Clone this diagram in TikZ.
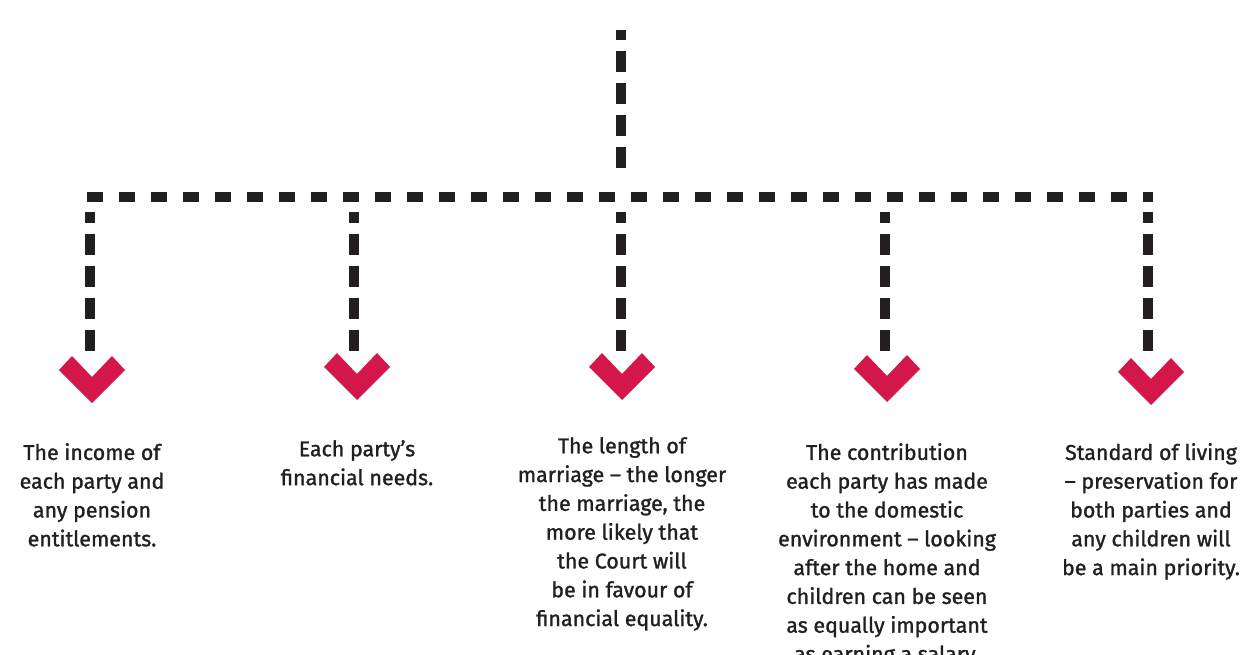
\documentclass[tikz,border=0pt]{standalone}
\usepackage{fontspec}
\setmainfont{Fira Sans}[FakeBold=1.3]
\definecolor{ink}{HTML}{231F20}
\definecolor{berry}{HTML}{D4174A}
\begin{document}
\begin{tikzpicture}[x=1pt,y=-1pt,
  dashv/.style={draw=ink,line width=10.5pt,dash pattern=on 21pt off 11pt},
  dashh/.style={draw=ink,line width=10.5pt,dash pattern=on 16pt off 16pt},
  chev/.style={fill=berry},
  lbl/.style={align=center,font=\fontsize{21.4}{28.8}\selectfont,text=ink,anchor=north,inner sep=0pt}]
\useasboundingbox (0,0) rectangle (1250,655);
\clip (0,0) rectangle (1250,655);
% trunk
\coordinate (top) at (621,30);
\coordinate (hub) at (621,168);
\draw[dashv,dash phase=11pt] (top) -- (hub);
% bar
\coordinate (L) at (87,197);
\coordinate (R) at (1153,197);
\draw[dashh] (L) -- (R);
% branches
\foreach \i/\x/\cx/\cy in {1/90/92/356, 2/354/357/353, 3/621/622/353, 4/885/887/355, 5/1148/1151/358}{
  \coordinate (b\i) at (\x,212);
  \coordinate (e\i) at (\x,352);
  \coordinate (c\i) at (\cx,\cy);
  \draw[dashv,dash phase=10pt] (b\i) -- (e\i);
  \fill[chev,shift={(c\i)}] (-33,14) -- (-20,0) -- (0,21) -- (20,0) -- (33,14) -- (0,47) -- cycle;
}
% labels
\node[lbl] (t1) at (92,443) {The income of\\each party and\\any pension\\entitlements.};
\node[lbl] (t2) at (357,440) {Each party’s\\financial needs.};
\node[lbl] (t3) at (622,437) {The length of\\marriage – the longer\\the marriage, the\\more likely that\\the Court will\\be in favour of\\financial equality.};
\node[lbl] (t4) at (887,443) {The contribution\\each party has made\\to the domestic\\environment – looking\\after the home and\\children can be seen\\as equally important\\as earning a salary.};
\node[lbl] (t5) at (1151,443) {Standard of living\\– preservation for\\both parties and\\any children will\\be a main priority.};
\end{tikzpicture}
\end{document}
